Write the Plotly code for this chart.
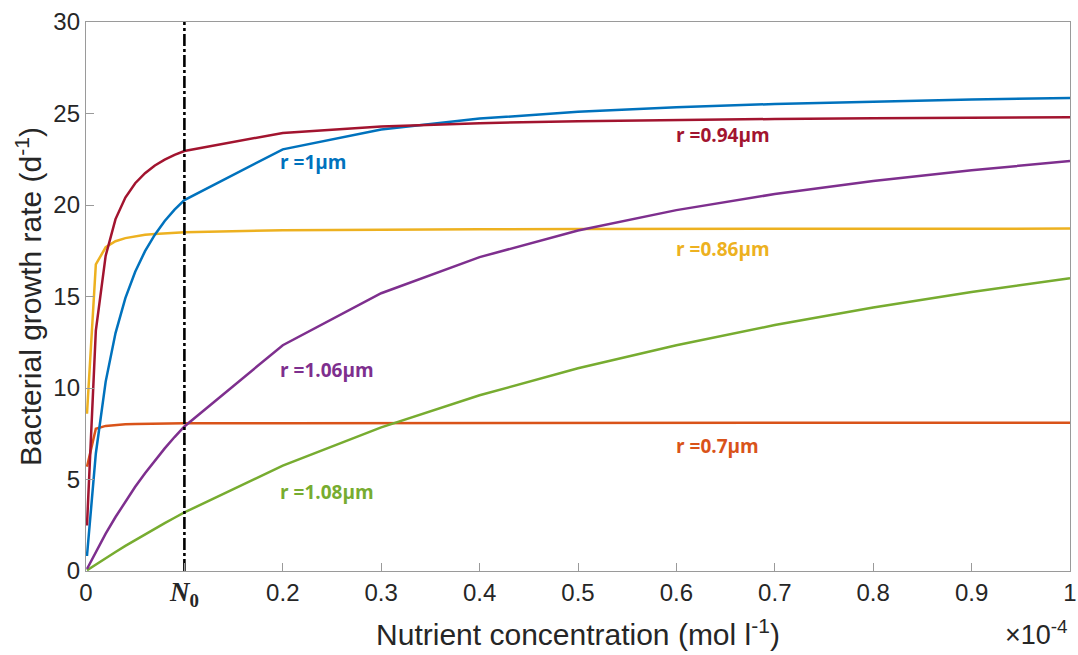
import plotly.graph_objects as go

# Nutrient concentration samples (units of 1e-4 mol/l)
conc = [0.001, 0.01, 0.02, 0.03, 0.04, 0.05, 0.06, 0.07, 0.08, 0.09, 0.1,
        0.2, 0.3, 0.4, 0.5, 0.6, 0.7, 0.8, 0.9, 1.0]

# Growth rate (1/day) for each cell radius
rate_094 = [2.49, 13.14, 17.23, 19.23, 20.41, 21.19, 21.74, 22.16, 22.48, 22.74, 22.95,
            23.94, 24.29, 24.47, 24.58, 24.65, 24.70, 24.74, 24.77, 24.80]
rate_100 = [0.82, 6.42, 10.35, 13.00, 14.91, 16.35, 17.48, 18.38, 19.13, 19.75, 20.27,
            23.04, 24.13, 24.72, 25.09, 25.34, 25.52, 25.66, 25.77, 25.85]
rate_086 = [8.59, 16.75, 17.69, 18.02, 18.19, 18.30, 18.37, 18.42, 18.46, 18.49, 18.51,
            18.62, 18.66, 18.67, 18.69, 18.69, 18.70, 18.70, 18.71, 18.71]
rate_070 = [5.70, 7.77, 7.93, 7.99, 8.02, 8.03, 8.04, 8.05, 8.06, 8.06, 8.07,
            8.08, 8.09, 8.09, 8.09, 8.09, 8.10, 8.10, 8.10, 8.10]
rate_106 = [0.11, 1.06, 2.04, 2.95, 3.80, 4.60, 5.34, 6.04, 6.70, 7.32, 7.90,
            12.34, 15.18, 17.15, 18.61, 19.72, 20.60, 21.31, 21.90, 22.40]
rate_108 = [0.04, 0.36, 0.70, 1.04, 1.37, 1.69, 2.01, 2.32, 2.62, 2.91, 3.20,
            5.76, 7.85, 9.60, 11.08, 12.34, 13.44, 14.40, 15.25, 16.00]

radius_labels = ["r =0.94μm", "r =1μm", "r =0.86μm", "r =0.7μm", "r =1.06μm", "r =1.08μm"]
colors = ["#A2142F", "#0072BD", "#EDB120", "#D95319", "#7E2F8E", "#77AC30"]
series = [rate_094, rate_100, rate_086, rate_070, rate_106, rate_108]

# Label anchor positions (data coordinates)
label_x = [0.598, 0.195, 0.598, 0.598, 0.195, 0.195]
label_y = [23.8, 22.35, 17.6, 6.85, 10.98, 4.3]

N0 = 0.1
x_ticks = [0, 0.1, 0.2, 0.3, 0.4, 0.5, 0.6, 0.7, 0.8, 0.9, 1.0]
x_ticktext = ["0",
              "<span style='font-family:Liberation Serif;font-size:27px'>"
              "<b><i>N</i><sub>0</sub></b></span>",
              "0.2", "0.3", "0.4", "0.5", "0.6", "0.7", "0.8", "0.9", "1"]
y_ticks = [0, 5, 10, 15, 20, 25, 30]

fig = go.Figure()

# Draw order: yellow, orange, green, purple, blue, red on top
order = [2, 3, 5, 4, 1, 0]
for i in order:
    fig.add_trace(go.Scatter(x=conc, y=series[i], mode="lines",
                             line=dict(color=colors[i], width=2.5),
                             showlegend=False, hoverinfo="skip"))

fig.add_trace(go.Scatter(x=[N0, N0], y=[0, 30], mode="lines",
                         line=dict(color="black", width=2.6, dash="12px,3px,3px,3px"),
                         showlegend=False, hoverinfo="skip"))

for t, c, lx, ly in zip(radius_labels, colors, label_x, label_y):
    fig.add_annotation(x=lx, y=ly, text=f"<b>{t}</b>", showarrow=False,
                       xanchor="left", yanchor="middle",
                       font=dict(family="Open Sans", size=19, color=c))

fig.add_annotation(xref="paper", yref="paper", x=1.0, y=-0.078,
                   text="×10<sup>-4</sup>", showarrow=False,
                   xanchor="right", yanchor="top",
                   font=dict(family="Liberation Sans", size=27, color="#262626"))

axis_common = dict(showline=True, linecolor="#9a9a9a", linewidth=1.3, mirror=True,
                   ticks="inside", ticklen=8, tickcolor="#9a9a9a", tickwidth=1.2,
                   showgrid=False, zeroline=False,
                   tickfont=dict(family="Liberation Sans", size=24, color="#262626"))

fig.update_xaxes(range=[0, 1], tickvals=x_ticks, ticktext=x_ticktext,
                 title=dict(text="Nutrient concentration (mol l<sup>-1</sup>)",
                            font=dict(family="Liberation Sans", size=30, color="#262626"),
                            standoff=14),
                 **axis_common)
fig.update_yaxes(range=[0, 30], tickvals=y_ticks,
                 title=dict(text="Bacterial growth rate (d<sup>-1</sup>)",
                            font=dict(family="Liberation Sans", size=30, color="#262626"),
                            standoff=2),
                 **axis_common)

fig.update_layout(width=1078, height=655, plot_bgcolor="white", paper_bgcolor="white",
                  margin=dict(l=86, r=8, t=22, b=84, autoexpand=False))

fig.write_html("out.html")
